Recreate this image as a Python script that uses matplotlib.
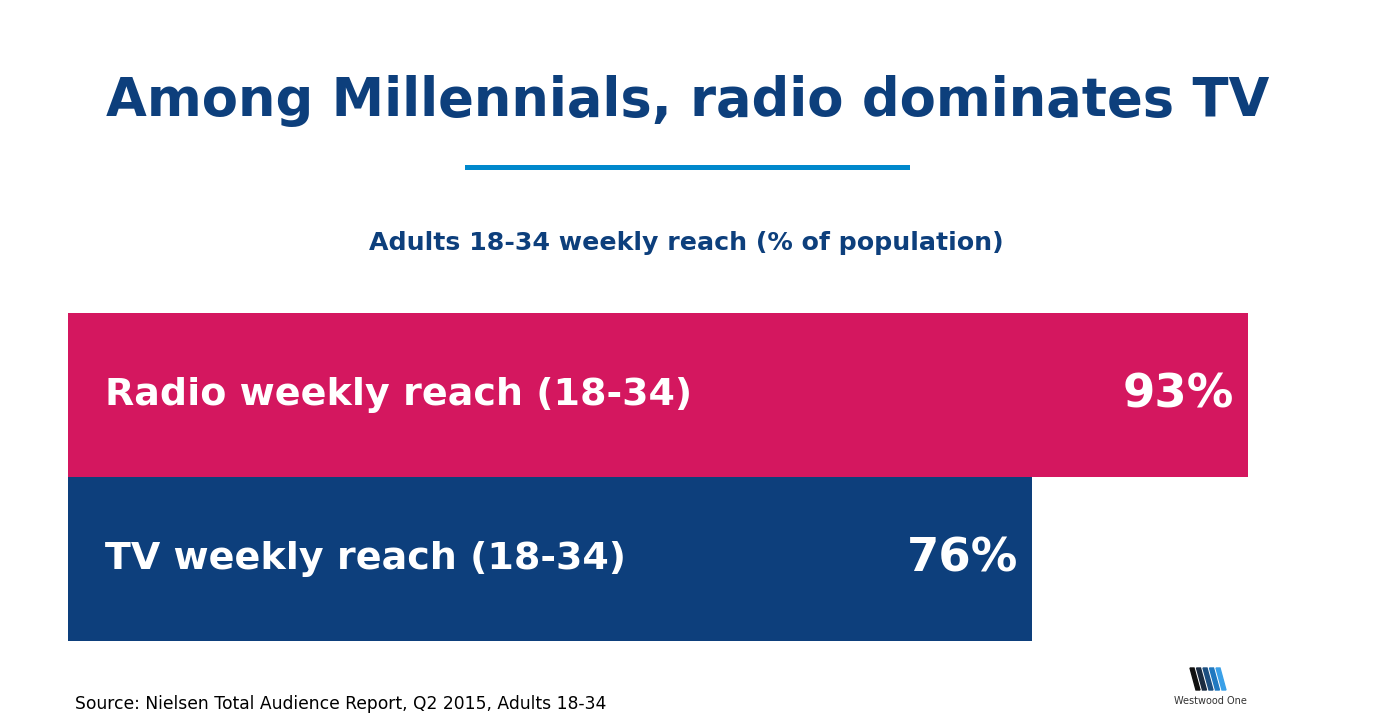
import numpy as np
import matplotlib.pyplot as plt
from matplotlib.patches import Polygon

# data
labels = ["Radio weekly reach (18-34)", "TV weekly reach (18-34)"]
values = [93, 76]
colors = ["#D4175F", "#0D3F7C"]

navy = "#0D3F7C"
W, H = 1374, 724

plt.rcParams['font.family'] = ['DejaVu Sans']
fig = plt.figure(figsize=(W / 100, H / 100), dpi=100)
fig.patch.set_facecolor("white")

def fx(px):
    return px / W

def fy(py):
    return 1 - py / H

# title + rule + subtitle
fig.text(fx(688), fy(116), "Among Millennials, radio dominates TV", ha="center", va="baseline",
         fontsize=38, fontweight="bold", color=navy)
fig.add_artist(plt.Line2D([fx(467), fx(907)], [fy(167), fy(167)], color="#0088CC", lw=3.6))
fig.text(fx(686), fy(243), "Adults 18-34 weekly reach (% of population)", ha="center", va="center",
         fontsize=18.2, fontweight="bold", color=navy)

# bars
ax = fig.add_axes([fx(68), fy(641), fx(1337) - fx(68), (641 - 313) / H])
y = np.arange(len(values))[::-1]
ax.barh(y, values, height=1.0, color=colors)
ax.set_xlim(0, 100)
ax.set_ylim(-0.5, 1.5)
ax.axis("off")
for yi, lab, v in zip(y, labels, values):
    ax.text(2.9, yi, lab, ha="left", va="center", fontsize=27.4, fontweight="bold", color="white")
    ax.text(v - 1.1, yi, f"{v}%", ha="right", va="center", fontsize=33.5, fontweight="bold", color="white")

# source
fig.text(fx(75), fy(704), "Source: Nielsen Total Audience Report, Q2 2015, Adults 18-34", ha="left", va="center",
         fontsize=12.3, color="black")

# logo
lax = fig.add_axes([fx(1170), fy(710), 80 / W, 45 / H])
lax.set_xlim(0, 80)
lax.set_ylim(0, 45)
lax.axis("off")
stripe_cols = ["#111111", "#1a2b40", "#1d4f80", "#1f78c0", "#3aa0e8"]
for i, c in enumerate(stripe_cols):
    x0 = 20 + i * 6.5
    lax.add_patch(Polygon([[x0, 42], [x0 + 4, 42], [x0 + 10, 20], [x0 + 6, 20]], closed=True, color=c))
lax.text(40, 9, "Westwood One", ha="center", va="center", fontsize=7, color="#333333")

fig.savefig("out.png", dpi=100, facecolor="white")
